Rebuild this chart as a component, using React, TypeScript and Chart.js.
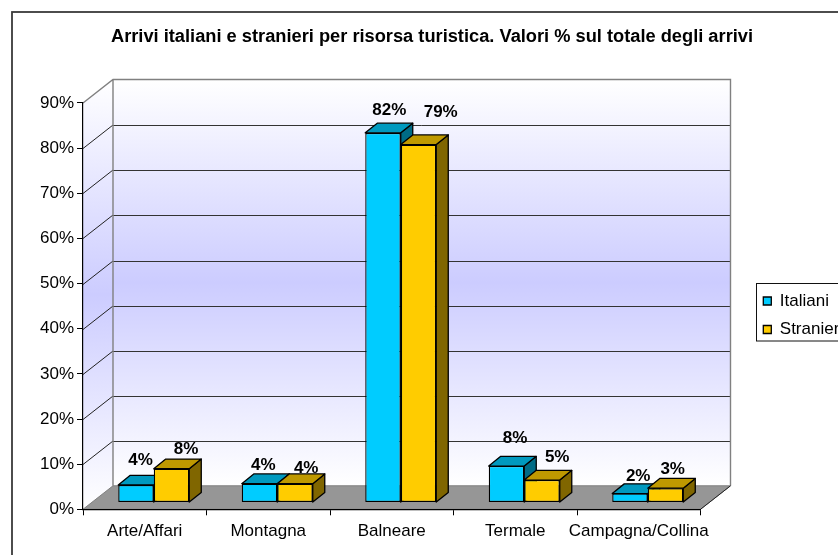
import React, { useEffect, useRef } from "react";
import { Chart, registerables } from "chart.js";

Chart.register(...registerables);

const categories = ["Arte/Affari", "Montagna", "Balneare", "Termale", "Campagna/Collina"];
const italiani = [3.9, 4.2, 81.9, 8.1, 2.0];
const stranieri = [7.5, 4.2, 79.3, 5.0, 3.2];
const yTicks = [0, 10, 20, 30, 40, 50, 60, 70, 80, 90];

const titleText = "Arrivi italiani e stranieri per risorsa turistica. Valori % sul totale degli arrivi";

// label nudges: [dx, dy] from the centre of each bar's front top edge
const italianiNudge = [[4.5, -25], [3.8, -18.7], [6.3, -23], [8.5, -28], [8.2, -17]];
const stranieriNudge = [[14.5, -19.7], [11.2, -15.7], [22.2, -32.7], [15.2, -23], [7.2, -19]];

const W = 864;
const H = 580;
const WALL_DX = 30;
const WALL_DY = -23.5;
const BAR_DX = 9;
const BAR_DY = -6.7;
const BAR_DEPTH_X = 12;
const BAR_DEPTH_Y = -9.7;
const FONT = "'Liberation Sans', Arial, sans-serif";

const faces = [
  { front: "#00CCFF", top: "#0099BF", side: "#006B85" },
  { front: "#FFCC00", top: "#BF9900", side: "#806600" },
];

function poly(ctx: CanvasRenderingContext2D, pts: number[][]) {
  ctx.beginPath();
  pts.forEach((p, i) => (i ? ctx.lineTo(p[0], p[1]) : ctx.moveTo(p[0], p[1])));
  ctx.closePath();
}

function wallFill(ctx: CanvasRenderingContext2D, y0: number, y1: number) {
  const g = ctx.createLinearGradient(0, y0, 0, y1);
  g.addColorStop(0, "#FFFFFF");
  g.addColorStop(0.5, "#CCCCFF");
  g.addColorStop(1, "#FFFFFF");
  return g;
}

const scene3d = {
  id: "scene3d",
  afterLayout(chart: any) {
    const lg = chart.legend;
    const w = lg.width;
    const h = lg.height;
    lg.left = 751.8;
    lg.top = 281;
    lg.right = lg.left + w;
    lg.bottom = lg.top + h;
    const tb = chart.titleBlock;
    tb.left = 432 - 420;
    tb.right = 432 + 420;
  },
  beforeDraw(chart: any) {
    const { ctx, chartArea: a, scales } = chart;
    const y = scales.y;
    const top = y.getPixelForValue(90);
    const bot = y.getPixelForValue(0);
    const l = a.left;
    const r = a.right;
    ctx.save();
    ctx.fillStyle = "#fff";
    ctx.fillRect(0, 0, W, H);

    // outer frame
    ctx.strokeStyle = "#3a3a3a";
    ctx.lineWidth = 1.8;
    ctx.strokeRect(12, 12, W + 40, H + 40);

    // back wall
    ctx.fillStyle = wallFill(ctx, top + WALL_DY, bot + WALL_DY);
    ctx.fillRect(l + WALL_DX, top + WALL_DY, r - l, bot - top);
    // side wall
    poly(ctx, [[l, top], [l + WALL_DX, top + WALL_DY], [l + WALL_DX, bot + WALL_DY], [l, bot]]);
    ctx.fillStyle = wallFill(ctx, top + WALL_DY, bot);
    ctx.fill();

    // grid
    ctx.lineWidth = 1;
    for (const v of yTicks) {
      if (v === 0 || v === 90) continue;
      const p = Math.round(y.getPixelForValue(v)) + 0.5;
      ctx.strokeStyle = "#222";
      ctx.beginPath();
      ctx.moveTo(l, p);
      ctx.lineTo(l + WALL_DX, p + WALL_DY);
      ctx.stroke();
      ctx.strokeStyle = "#333";
      ctx.beginPath();
      ctx.moveTo(l + WALL_DX, Math.round(p + WALL_DY) + 0.5);
      ctx.lineTo(r + WALL_DX, Math.round(p + WALL_DY) + 0.5);
      ctx.stroke();
    }

    // wall outlines
    ctx.strokeStyle = "#808080";
    ctx.lineWidth = 1.4;
    ctx.beginPath();
    ctx.moveTo(l, top);
    ctx.lineTo(l + WALL_DX, top + WALL_DY);
    ctx.lineTo(r + WALL_DX, top + WALL_DY);
    ctx.lineTo(r + WALL_DX, bot + WALL_DY);
    ctx.moveTo(l + WALL_DX, top + WALL_DY);
    ctx.lineTo(l + WALL_DX, bot + WALL_DY);
    ctx.stroke();

    // floor
    poly(ctx, [[l, bot], [l + WALL_DX, bot + WALL_DY], [r + WALL_DX, bot + WALL_DY], [r, bot]]);
    ctx.fillStyle = "#969696";
    ctx.fill();
    ctx.strokeStyle = "#808080";
    ctx.lineWidth = 1;
    ctx.stroke();
    ctx.strokeStyle = "#222";
    ctx.beginPath();
    ctx.moveTo(r, bot);
    ctx.lineTo(r + WALL_DX, bot + WALL_DY);
    ctx.stroke();
    ctx.restore();
  },
  beforeDatasetsDraw(chart: any) {
    const { ctx } = chart;
    chart.data.datasets.forEach((_: any, di: number) => {
      const meta = chart.getDatasetMeta(di);
      const face = faces[di];
      meta.data.forEach((bar: any) => {
        const { x, y, base, width } = bar.getProps(["x", "y", "base", "width"], true);
        const left = x - width / 2 + BAR_DX;
        const right = x + width / 2 + BAR_DX;
        const t = y + BAR_DY;
        const b = base + BAR_DY;
        ctx.save();
        ctx.strokeStyle = "#000";
        ctx.lineWidth = 1.3;
        ctx.lineJoin = "round";
        poly(ctx, [[right, t], [right + BAR_DEPTH_X, t + BAR_DEPTH_Y], [right + BAR_DEPTH_X, b + BAR_DEPTH_Y], [right, b]]);
        ctx.fillStyle = face.side;
        ctx.fill();
        ctx.stroke();
        poly(ctx, [[left, t], [right, t], [right + BAR_DEPTH_X, t + BAR_DEPTH_Y], [left + BAR_DEPTH_X, t + BAR_DEPTH_Y]]);
        ctx.fillStyle = face.top;
        ctx.fill();
        ctx.stroke();
        ctx.translate(BAR_DX, BAR_DY);
        bar.draw(ctx);
        ctx.restore();
      });
    });
    return false;
  },
  afterDraw(chart: any) {
    const { ctx } = chart;
    ctx.save();
    // value labels
    ctx.font = `bold 17px ${FONT}`;
    ctx.fillStyle = "#000";
    ctx.textAlign = "center";
    ctx.textBaseline = "middle";
    const nudges = [italianiNudge, stranieriNudge];
    chart.data.datasets.forEach((ds: any, di: number) => {
      const meta = chart.getDatasetMeta(di);
      meta.data.forEach((bar: any, i: number) => {
        const { x, y } = bar.getProps(["x", "y"], true);
        const [nx, ny] = nudges[di][i];
        ctx.fillText(`${Math.round(ds.data[i])}%`, x + BAR_DX + nx, y + BAR_DY + ny);
      });
    });
    // legend frame
    ctx.strokeStyle = "#111";
    ctx.lineWidth = 1;
    ctx.strokeRect(756.5, 283.5, 120, 57.5);
    ctx.restore();
  },
};

export default function App() {
  const ref = useRef<HTMLCanvasElement | null>(null);
  useEffect(() => {
    const chart = new Chart(ref.current as HTMLCanvasElement, {
      type: "bar",
      data: {
        labels: categories,
        datasets: [
          { label: "Italiani", data: italiani, backgroundColor: faces[0].front, borderColor: "#000", borderWidth: 1.3, borderSkipped: false },
          { label: "Stranieri", data: stranieri, backgroundColor: faces[1].front, borderColor: "#000", borderWidth: 1.3, borderSkipped: false },
        ],
      },
      options: {
        responsive: false,
        animation: false,
        events: [],
        categoryPercentage: 0.575,
        barPercentage: 1,
        layout: { padding: { top: 25.55, left: 0, right: W - 700.5, bottom: 0 } },
        plugins: {
          tooltip: { enabled: false },
          title: {
            display: true,
            text: titleText,
            color: "#000",
            font: { family: FONT, size: 18.25, weight: "bold", lineHeight: 1.2 },
            padding: { top: 0, bottom: 55.55 },
          },
          legend: {
            display: true,
            position: "chartArea",
            align: "start",
            labels: {
              boxWidth: 8,
              boxHeight: 8,
              padding: 11.5,
              color: "#000",
              font: { family: FONT, size: 17 },
            },
          },
        },
        scales: {
          x: {
            afterFit: (s: any) => { s.height = H - 509.3; },
            grid: { display: true, drawOnChartArea: false, drawTicks: true, tickLength: 6, color: "#000" },
            border: { display: true, color: "#000", width: 1.2 },
            ticks: { color: "#000", padding: 6, maxRotation: 0, autoSkip: false, font: { family: FONT, size: 17 } },
          },
          y: {
            min: 0,
            max: 90,
            afterFit: (s: any) => { s.width = 83; },
            grid: { display: true, drawOnChartArea: false, drawTicks: true, tickLength: 6, color: "#000" },
            border: { display: true, color: "#000", width: 1.2 },
            ticks: {
              stepSize: 10,
              color: "#000",
              padding: 3,
              font: { family: FONT, size: 17 },
              callback: (v: any) => `${v}%`,
            },
          },
        },
      } as any,
      plugins: [scene3d as any],
    });
    return () => chart.destroy();
  }, []);
  return (
    <div style={{ position: "fixed", inset: 0, overflow: "hidden", background: "#fff" }}>
      <canvas ref={ref} width={W} height={H} style={{ display: "block", width: W, height: H }} />
    </div>
  );
}
